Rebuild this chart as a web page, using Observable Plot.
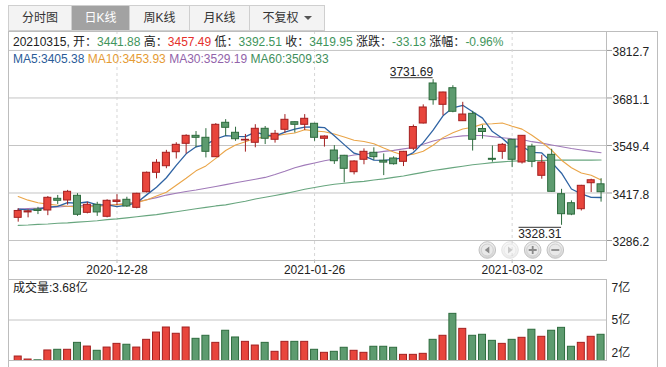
<!DOCTYPE html>
<html><head><meta charset="utf-8">
<script src="https://cdn.jsdelivr.net/npm/d3@7"></script>
<script src="https://cdn.jsdelivr.net/npm/@observablehq/plot@0.6"></script>
<style>
html,body{margin:0;padding:0;background:#fff;}
#wrap{position:relative;width:666px;height:367px;overflow:hidden;font-family:"Liberation Sans",Arial,"Noto Sans CJK SC",sans-serif;font-size:12px;color:#222;}
.abs{position:absolute;}
#tabs{left:8px;top:5px;height:26px;display:flex;}
.tab{box-sizing:border-box;height:26px;line-height:25px;text-align:center;border:1px solid #cfcfcf;border-left:none;background:#f3f3f3;color:#333;font-size:12px;}
.tab.first{border-left:1px solid #cfcfcf;}
.tab.sel{background:#a2a2a2;color:#fff;}
.arrow{display:inline-block;width:0;height:0;border-left:4px solid transparent;border-right:4px solid transparent;border-top:4px solid #555;margin-left:5px;vertical-align:2px;}
#outer{left:8px;top:31px;width:650px;height:340px;box-sizing:border-box;border-left:1px solid #bdbdbd;border-top:1px solid #bdbdbd;border-right:1px solid #bdbdbd;}
.line{white-space:nowrap;line-height:14px;}
</style></head><body>
<div id="wrap">
  <div id="outer" class="abs"></div>
  <div id="price" class="abs" style="left:0;top:0"></div>
  <div id="vol" class="abs" style="left:0;top:278px"></div>
  <div id="tabs" class="abs"></div>
  <div id="info" class="abs line" style="left:13px;top:35px"></div>
  <div id="ma" class="abs line" style="left:13px;top:52px"></div>
  <div id="vlab" class="abs line" style="left:13px;top:281px"></div>
  <svg id="nav" class="abs" style="left:470px;top:238px" width="100" height="24"></svg>
</div>
<script>
// ---------- data ----------
const tabs = ["分时图", "日K线", "周K线", "月K线", "不复权"];
const dates = ["2020-12-14","2020-12-15","2020-12-16","2020-12-17","2020-12-18","2020-12-21","2020-12-22","2020-12-23","2020-12-24","2020-12-25",
"2020-12-28","2020-12-29","2020-12-30","2020-12-31","2021-01-04","2021-01-05","2021-01-06","2021-01-07","2021-01-08","2021-01-11",
"2021-01-12","2021-01-13","2021-01-14","2021-01-15","2021-01-18","2021-01-19","2021-01-20","2021-01-21","2021-01-22","2021-01-25",
"2021-01-26","2021-01-27","2021-01-28","2021-01-29","2021-02-01","2021-02-02","2021-02-03","2021-02-04","2021-02-05","2021-02-08",
"2021-02-09","2021-02-10","2021-02-18","2021-02-19","2021-02-22","2021-02-23","2021-02-24","2021-02-25","2021-02-26","2021-03-01",
"2021-03-02","2021-03-03","2021-03-04","2021-03-05","2021-03-08","2021-03-09","2021-03-10","2021-03-11","2021-03-12","2021-03-15"];
const open = [3349,3364,3372,3369.3,3401.7,3397,3410,3362.9,3385.1,3351.9,
3393,3399,3376.8,3420,3473.8,3492,3530.8,3554.1,3576.2,3570.7,
3517,3612.3,3584.6,3563.2,3556.9,3595.7,3565.2,3592.9,3613.9,3606.7,
3609.5,3568,3535.5,3520.9,3475.4,3509.8,3529.2,3507,3513.4,3504.2,
3540.5,3610.3,3721.2,3662.1,3708.1,3616.7,3637.2,3595.1,3512.5,3531.9,
3565.2,3502.3,3545.8,3465.4,3523.6,3414.5,3389.5,3372.9,3444.9,3441.88];
const high = [3374,3371,3378,3408,3411,3425,3416,3392,3392,3399,
3413,3406,3417,3476,3510,3536,3557,3579,3588,3596,
3610,3621,3600,3580,3607,3602,3591,3635,3615,3635,
3611,3576,3549,3522,3507,3540,3543,3526,3518,3533,
3606,3662,3731.69,3697,3715,3669,3644,3605,3548,3555,
3566,3577,3553,3522,3539,3428,3396,3439,3456,3457.49];
const low = [3337,3349,3358,3355,3386,3384,3353,3360,3353,3349,
3383,3378,3374,3418,3457,3485,3512,3526,3543,3515,
3516,3575,3561,3531,3543,3552,3556,3583,3584,3591,
3561,3545,3497,3446,3468,3496,3508,3466,3495,3491,
3535,3609,3661,3632,3640,3616,3534,3567,3503,3511,
3488,3498,3488,3456,3420,3328.31,3355,3368,3419,3392.51];
const close = [3368,3367,3368,3404.5,3396.2,3421.1,3357.4,3385.1,3364,3396.2,
3397,3380.4,3415.6,3473.8,3501.5,3529.2,3551.3,3576.2,3570.7,3531.9,
3606.7,3598.4,3566.8,3565.2,3595.7,3568,3581.8,3620.6,3606.7,3623.4,
3570.7,3574.3,3505.9,3484.8,3505.1,3531.9,3517,3502,3497.6,3531.9,
3600.6,3654.7,3674.9,3696.2,3642.8,3635.2,3565.2,3586.8,3509.8,3551.3,
3509.8,3576.2,3504.2,3502.3,3421.1,3359.1,3358,3437.7,3453.1,3419.95];
// volume, 亿
const volume = [1.74,1.47,1.40,2.28,2.34,2.34,2.96,2.63,2.25,2.54,
2.87,2.79,2.54,3.23,3.88,4.33,3.77,4.33,3.32,3.59,
2.96,4.04,3.44,3.05,2.72,2.96,2.16,3.05,3.05,3.05,
2.34,2.07,2.16,2.52,2.25,2.07,2.61,2.61,2.52,1.89,
1.89,1.98,3.23,3.59,5.55,4.21,3.59,3.68,3.14,2.87,
3.23,3.41,4.13,3.50,4.04,4.30,2.61,2.96,3.50,3.68];
const ma5 = [3372.9,3371.2,3372.1,3378.5,3380.7,3391.4,3389.4,3392.9,3384.8,3384.8,
3379.9,3384.5,3390.6,3412.6,3433.7,3460.1,3494.3,3526.4,3545.8,3551.9,
3567.4,3576.8,3574.9,3573.8,3586.6,3578.8,3575.5,3586.3,3594.6,3600.1,
3600.6,3599.1,3576.2,3551.8,3528.2,3520.4,3508.9,3508.2,3510.7,3516.1,
3529.8,3557.4,3591.9,3631.7,3653.8,3660.8,3642.9,3625.2,3588.0,3569.7,
3544.6,3546.8,3530.3,3528.8,3502.7,3472.6,3428.9,3415.6,3405.8,3405.38];
const ma10 = [3408,3398,3391,3387,3384,3381,3379,3379,3381,3382.8,
3385.7,3387.0,3391.8,3398.7,3409.2,3420.0,3439.4,3458.5,3479.2,3492.8,
3513.7,3535.5,3550.7,3559.8,3569.2,3573.1,3576.1,3580.6,3584.2,3593.3,
3589.7,3587.3,3581.2,3573.2,3564.1,3560.5,3554.0,3542.2,3531.3,3522.1,
3525.1,3533.2,3550.1,3571.2,3585.0,3595.3,3600.1,3608.6,3609.8,3611.8,
3602.7,3594.8,3577.8,3558.4,3536.2,3508.6,3487.9,3473.0,3467.2,3453.93];
const ma30 = [3373,3375,3376,3378,3379,3381,3382,3383,3384,3385,
3386,3389,3393,3399,3405,3412,3417,3422,3426,3431,
3436,3441,3446,3451,3456,3461,3469,3478,3488,3495,
3501,3507,3512,3518,3523,3526,3529,3533,3536,3540,
3544,3553,3562,3568,3573,3576,3577,3577,3574,3571,
3568,3566,3560,3556,3551,3546,3541,3537,3533,3529.19];
const ma60 = [3328,3329,3331,3332,3334,3335,3337,3339,3341,3344,
3346,3349,3352,3355,3358,3362,3366,3370,3374,3378,
3382,3385,3390,3395,3401,3406,3411,3416,3422,3428,
3433,3438,3442,3445,3448,3450,3454,3457,3461,3465,
3470,3475,3480,3484,3488,3492,3496,3499,3502,3504,
3506,3507,3508,3508,3509,3509,3509,3509,3509,3509.33];
const priceTicks = ["3286.2","3417.8","3549.4","3681.1","3812.7"];
const dateTicks = ["2020-12-28","2021-01-26","2021-03-02"];
const volTicks = [7.8, 5, 2];
const volTickLabels = ["7亿","5亿","2亿"];
const infoLabels = ["开","高","低","收","涨跌","涨幅"];
const infoValues = ["3441.88","3457.49","3392.51","3419.95","-33.13","-0.96%"];
const infoColors = ["g","r","g","g","g","g"];
const infoDate = "20210315";
const maNames = ["MA5","MA10","MA30","MA60"];
const maLast = ["3405.38","3453.93","3529.19","3509.33"];
const volLast = "3.68亿";

// ---------- style ----------
const FONT = '"Liberation Sans", Arial, "Noto Sans CJK SC", sans-serif';
const RED = "#e8453c", RED_S = "#a31f1f", GREEN = "#5d9b6f", GREEN_S = "#2d6b3d";
const TXT_RED = "#e5302c", TXT_GREEN = "#3f955c";
const maColors = ["#2f63a3", "#eaa548", "#a07ab9", "#68a67f"];
const maText = ["#2a5c98", "#e59b34", "#9263aa", "#3f8f5c"];

const N = dates.length;
const candles = d3.range(N).map(i => ({i, open: open[i], high: high[i], low: low[i], close: close[i], vol: volume[i], up: close[i] >= open[i]}));
const ups = candles.filter(d => d.up), downs = candles.filter(d => !d.up);
const pTicks = priceTicks.map(Number);
const dIdx = dateTicks.map(d => dates.indexOf(d));
const xDomain = [-0.982, 59.55];
const HW = 0.355;
const hiI = d3.maxIndex(high), loI = d3.minIndex(low);

// ---------- header html ----------
document.getElementById("tabs").innerHTML = tabs.map((t, k) => {
  const w = [64, 58, 60, 60, 75][k];
  return `<div class="tab${k === 0 ? " first" : ""}${k === 1 ? " sel" : ""}" style="width:${w}px">${t}${k === 4 ? '<span class="arrow"></span>' : ""}</div>`;
}).join("");
document.getElementById("info").innerHTML = `${infoDate}, ` + infoLabels.map((l, k) =>
  `${l}：<span style="color:${infoColors[k] === "r" ? TXT_RED : TXT_GREEN}">${infoValues[k]}</span>`).join(" ");
document.getElementById("ma").innerHTML = maNames.map((n, k) =>
  `<span style="color:${maText[k]}">${n}:${maLast[k]}</span>`).join(" ");
document.getElementById("vlab").textContent = "成交量:" + volLast;

// ---------- price chart ----------
const lineOf = (arr, k) => Plot.lineY(arr, {x: (d, i) => i, y: d => d, stroke: maColors[k], strokeWidth: k === 0 ? 1.3 : 1.1});
const price = Plot.plot({
  width: 666, height: 280,
  marginTop: 31, marginBottom: 20, marginLeft: 8, marginRight: 60,
  x: {type: "linear", domain: xDomain, axis: null, label: null},
  y: {domain: [3230.8, 3865.2], axis: null, label: null},
  style: {fontFamily: FONT, fontSize: "12px", background: "transparent", overflow: "visible", color: "#222"},
  marks: [
    Plot.gridY(pTicks, {stroke: "#c4c4c4", strokeOpacity: 1}),
    Plot.ruleX(dIdx, {stroke: "#d6d6d6", strokeDasharray: "3,3"}),
    Plot.axisX(dIdx, {anchor: "bottom", tickSize: 3, tickPadding: 2, stroke: "#bbb", fill: "#222", label: null, tickFormat: i => dates[i]}),
    Plot.axisY(pTicks, {anchor: "right", tickSize: 5, stroke: "#999", fill: "none", label: null}),
    Plot.axisY(pTicks, {anchor: "right", tickSize: 0, tickPadding: 6, dy: 2, fill: "#222", label: null, tickFormat: d => d.toFixed(1)}),
    lineOf(ma60, 3), lineOf(ma30, 2), lineOf(ma10, 1), lineOf(ma5, 0),
    Plot.ruleX(ups, {x: "i", y1: "low", y2: "high", stroke: RED_S}),
    Plot.ruleX(downs, {x: "i", y1: "low", y2: "high", stroke: GREEN_S}),
    Plot.rect(ups, {x1: d => d.i - HW, x2: d => d.i + HW, y1: "open", y2: "close", fill: RED, stroke: RED_S}),
    Plot.rect(downs, {x1: d => d.i - HW, x2: d => d.i + HW, y1: "open", y2: "close", fill: GREEN, stroke: GREEN_S}),
    Plot.ruleY([hiI], {y: i => high[i], x1: i => i - 4.3, x2: i => i, dy: -2, stroke: "#333"}),
    Plot.text([hiI], {x: i => i, y: i => high[i], text: i => high[i].toFixed(2), textAnchor: "end", dy: -8, fill: "#222"}),
    Plot.ruleY([loI], {y: i => low[i], x1: i => i - 4.3, x2: i => i, dy: 2, stroke: "#333"}),
    Plot.text([loI], {x: i => i, y: i => low[i], text: i => low[i].toFixed(2), textAnchor: "end", dy: 9, fill: "#222"}),
    Plot.frame({stroke: "#bdbdbd"})
  ]
});
document.getElementById("price").append(price);

// ---------- volume chart ----------
const vol = Plot.plot({
  width: 666, height: 89,
  marginTop: 1, marginBottom: 7, marginLeft: 8, marginRight: 60,
  x: {type: "linear", domain: xDomain, axis: null, label: null},
  y: {domain: [1.384, 8.616], axis: null, label: null},
  style: {fontFamily: FONT, fontSize: "12px", background: "transparent", overflow: "visible", color: "#222"},
  marks: [
    Plot.gridY([5], {stroke: "#c4c4c4", strokeOpacity: 1}),
    Plot.rect(ups, {x1: d => d.i - HW, x2: d => d.i + HW, y1: () => 0, y2: "vol", fill: RED, stroke: RED_S, clip: true}),
    Plot.rect(downs, {x1: d => d.i - HW, x2: d => d.i + HW, y1: () => 0, y2: "vol", fill: GREEN, stroke: GREEN_S, clip: true}),
    Plot.axisY(volTicks, {anchor: "right", tickSize: 0, tickPadding: 5, fill: "#222", label: null, tickFormat: d => volTickLabels[volTicks.indexOf(d)]}),
    Plot.frame({stroke: "#bdbdbd"})
  ]
});
document.getElementById("vol").append(vol);

// ---------- nav buttons (UI decoration) ----------
const nav = d3.select("#nav");
const defs = nav.append("defs").append("linearGradient").attr("id", "bg").attr("x1", 0).attr("y1", 0).attr("x2", 0).attr("y2", 1);
defs.append("stop").attr("offset", "0").attr("stop-color", "#f2f2f2");
defs.append("stop").attr("offset", "1").attr("stop-color", "#d4d4d4");
const cx = [17.3, 40, 62.7, 85.3];
cx.forEach((x, k) => {
  const g = nav.append("g").attr("transform", `translate(${x},12)`).attr("opacity", k === 1 ? 0.45 : 1);
  g.append("circle").attr("r", 8.3).attr("fill", "url(#bg)").attr("stroke", "#c2c2c2");
  g.append("circle").attr("r", 6).attr("fill", "#e9e9e9").attr("stroke", "#d0d0d0");
  const c = "#8a8a8a";
  if (k === 0) g.append("path").attr("d", "M-2.5,0L2,-3.5L2,3.5Z").attr("fill", c);
  if (k === 1) g.append("path").attr("d", "M2.5,0L-2,-3.5L-2,3.5Z").attr("fill", c);
  if (k === 2) g.append("path").attr("d", "M-4,0H4M0,-4V4").attr("stroke", c).attr("stroke-width", 1.8);
  if (k === 3) g.append("path").attr("d", "M-4,0H4").attr("stroke", c).attr("stroke-width", 1.8);
});
</script>
</body></html>
